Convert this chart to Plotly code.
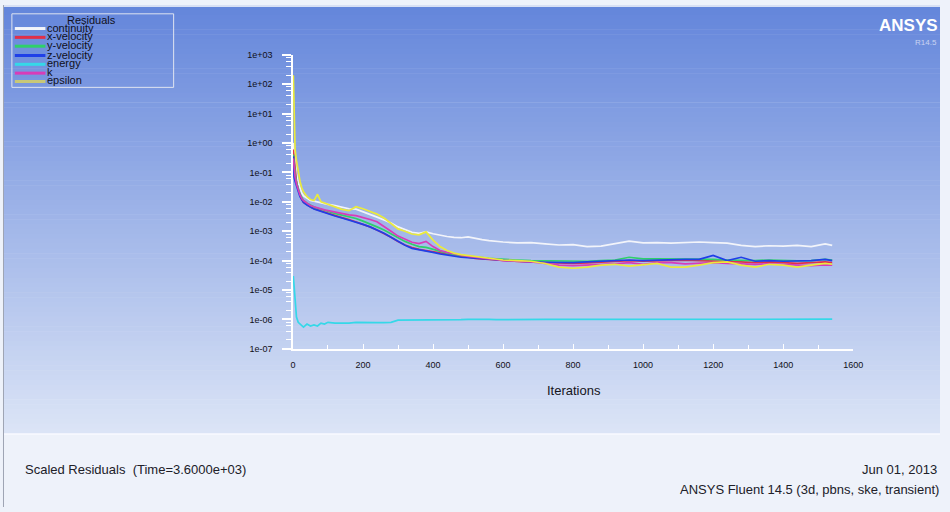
import plotly.graph_objects as go

# ---------------- data ----------------
iterations = [1, 3, 6, 10, 15, 20, 25, 30, 40, 50, 60, 70, 80, 90, 100,
              120, 140, 160, 180, 200, 220, 240, 260, 280, 300, 320, 340, 360, 380, 400,
              420, 440, 460, 480, 500, 520, 540, 560, 580, 600,
              640, 680, 720, 760, 800, 840, 880, 920, 960, 1000, 1040, 1080, 1120, 1160,
              1200, 1240, 1280, 1320, 1360, 1400, 1440, 1480, 1520, 1540]

continuity = [1.0, 0.5, 0.2, 0.09, 0.045, 0.028, 0.02, 0.016, 0.013, 0.011, 0.0105, 0.0098, 0.0092, 0.0088, 0.0082,
              0.0074, 0.0066, 0.0058, 0.0056, 0.0046, 0.0038, 0.003, 0.0024, 0.0019, 0.0014, 0.0011, 0.00092, 0.00085, 0.00095, 0.00082,
              0.00072, 0.00066, 0.00062, 0.0006, 0.00064, 0.00056, 0.00052, 0.00048, 0.00045, 0.00043,
              0.0004, 0.00041, 0.00037, 0.00034, 0.00035, 0.0003, 0.00031, 0.00038, 0.00046, 0.0004, 0.00041, 0.00039, 0.00042, 0.00043,
              0.00041, 0.00039, 0.00033, 0.0003, 0.00032, 0.00031, 0.00033, 0.0003, 0.00037, 0.00033]

x_velocity = [0.6, 0.3, 0.11, 0.05, 0.025, 0.016, 0.012, 0.0095, 0.0078, 0.0066, 0.0058, 0.0053, 0.0048, 0.0044, 0.004,
              0.0034, 0.0029, 0.0025, 0.0021, 0.0017, 0.0014, 0.0011, 0.00085, 0.00062, 0.00045, 0.00034, 0.00028, 0.00024, 0.00022, 0.0002,
              0.00018, 0.000165, 0.00015, 0.00014, 0.00013, 0.00012, 0.000115, 0.00011, 0.000105, 0.0001,
              0.000094, 0.00009, 0.000086, 0.000082, 0.00008, 0.000084, 0.00009, 0.000094, 0.0001, 0.000096, 0.0001, 0.0001, 0.000104, 0.0001,
              0.000098, 0.000094, 0.00009, 0.000086, 0.00009, 0.000086, 0.00008, 0.000086, 0.00009, 0.000086]

y_velocity = [0.4, 0.2, 0.09, 0.045, 0.026, 0.018, 0.014, 0.011, 0.009, 0.0075, 0.0066, 0.006, 0.0055, 0.0051, 0.0047,
              0.004, 0.0035, 0.0031, 0.0027, 0.0022, 0.0018, 0.0014, 0.0011, 0.0008, 0.0006, 0.00045, 0.00036, 0.0003, 0.00028, 0.00024,
              0.0002, 0.00018, 0.00016, 0.00015, 0.00014, 0.00013, 0.000125, 0.00012, 0.000115, 0.00011,
              0.000105, 0.0001, 0.000098, 0.000095, 0.000092, 0.000095, 0.0001, 0.000105, 0.00013, 0.000115, 0.000115, 0.000115, 0.000115, 0.000115,
              0.00011, 0.000105, 0.0001, 0.0001, 0.000105, 0.0001, 0.000098, 0.0001, 0.00011, 0.000105]

z_velocity = [0.35, 0.07, 0.05, 0.035, 0.022, 0.015, 0.012, 0.0095, 0.0078, 0.0065, 0.0057, 0.0052, 0.0047, 0.0043, 0.0039,
              0.0033, 0.0028, 0.0024, 0.0021, 0.0017, 0.0014, 0.0011, 0.00085, 0.00062, 0.00044, 0.00033, 0.00026, 0.00023, 0.00021, 0.00019,
              0.00017, 0.000155, 0.00014, 0.00013, 0.000125, 0.00012, 0.000115, 0.00011, 0.000105, 0.0001,
              0.000095, 0.00009, 0.000088, 0.000085, 0.000085, 0.00009, 0.000095, 0.0001, 0.000105, 0.0001, 0.000105, 0.000105, 0.00011, 0.00011,
              0.00015, 0.0001, 0.00013, 0.000095, 0.0001, 0.000095, 0.000095, 0.0001, 0.00011, 0.0001]

energy = [3e-5, 1.2e-5, 3e-6, 1.2e-6, 8e-7, 7e-7, 6e-7, 5.5e-7, 7e-7, 6e-7, 6.5e-7, 6e-7, 7.5e-7, 7e-7, 8e-7,
          7.5e-7, 7.5e-7, 7.5e-7, 8e-7, 7.8e-7, 7.6e-7, 7.8e-7, 7.8e-7, 8e-7, 9.5e-7, 9.5e-7, 9.3e-7, 9.5e-7, 9.5e-7, 9.6e-7,
          9.6e-7, 9.8e-7, 9.7e-7, 9.8e-7, 1.0e-6, 9.8e-7, 9.9e-7, 1.0e-6, 9.9e-7, 1.0e-6,
          1.0e-6, 1.0e-6, 1.0e-6, 1.0e-6, 1.0e-6, 1.0e-6, 1.0e-6, 1.0e-6, 1.02e-6, 1.02e-6, 1.02e-6, 1.02e-6, 1.02e-6, 1.02e-6,
          1.02e-6, 1.02e-6, 1.02e-6, 1.02e-6, 1.02e-6, 1.02e-6, 1.02e-6, 1.02e-6, 1.02e-6, 1.02e-6]

k = [0.3, 0.15, 0.07, 0.04, 0.025, 0.017, 0.013, 0.011, 0.009, 0.0075, 0.0068, 0.0062, 0.0057, 0.0053, 0.005,
     0.0044, 0.0039, 0.0036, 0.0034, 0.003, 0.0025, 0.0021, 0.0014, 0.001, 0.00068, 0.00052, 0.00042, 0.00038, 0.00045, 0.0003,
     0.00022, 0.00019, 0.00017, 0.00015, 0.00014, 0.00013, 0.00012, 0.000115, 0.00011, 0.0001,
     0.000095, 0.00009, 0.00008, 0.00007, 0.000068, 0.00007, 0.000075, 0.000078, 0.000085, 0.000075, 0.000085, 0.000085, 0.000078, 0.00008,
     0.000085, 0.00008, 0.000078, 0.000075, 0.000078, 0.000075, 0.00007, 0.000068, 0.000072, 0.00007]

epsilon = [200.0, 5.0, 0.6, 0.25, 0.1, 0.05, 0.03, 0.022, 0.015, 0.012, 0.011, 0.018, 0.01, 0.009, 0.008,
           0.0065, 0.0055, 0.005, 0.0068, 0.0058, 0.0048, 0.0038, 0.0028, 0.0018, 0.0012, 0.001, 0.0008, 0.00075, 0.00095, 0.0005,
           0.0003, 0.00022, 0.00018, 0.00016, 0.00015, 0.00014, 0.00013, 0.00012, 0.00011, 0.000105,
           0.0001, 0.000095, 0.00008, 0.00006, 0.000055, 0.00006, 0.00007, 0.000075, 0.000065, 0.00007, 0.00008, 0.00006, 0.00006, 0.00007,
           0.000085, 0.00009, 0.00007, 0.00006, 0.000075, 0.00007, 0.00006, 0.00007, 0.00008, 0.000075]

series_names = ["continuity", "x-velocity", "y-velocity", "z-velocity", "energy", "k", "epsilon"]
series_values = [continuity, x_velocity, y_velocity, z_velocity, energy, k, epsilon]
series_colors = ["#f2f4fa", "#e0304a", "#2fd06a", "#1f3fe8", "#35d8e8", "#d83cb8", "#eaea3c"]
legend_colors = ["#f2f4fa", "#e0304a", "#2fd06a", "#1f3fe8", "#35d8e8", "#d83cb8", "#c8c878"]

y_tick_vals = [1e-7, 1e-6, 1e-5, 1e-4, 1e-3, 1e-2, 1e-1, 1e0, 1e1, 1e2, 1e3]
y_tick_text = ["1e-07", "1e-06", "1e-05", "1e-04", "1e-03", "1e-02", "1e-01", "1e+00", "1e+01", "1e+02", "1e+03"]
x_tick_vals = [0, 200, 400, 600, 800, 1000, 1200, 1400, 1600]

W, H = 950, 512
FONT = "Liberation Sans, Arial, sans-serif"


def px(x):
    return x / W


def py(y):
    return 1 - y / H


fig = go.Figure()
for name, vals, col in zip(series_names, series_values, series_colors):
    fig.add_trace(go.Scatter(x=iterations, y=vals, mode="lines", name=name,
                             line=dict(color=col, width=1.7), showlegend=False))

# minor tick positions on the log axis (2, 4, 6, 8 of each decade)
minor_vals = []
for e in range(-7, 3):
    for m in (2, 4, 6, 8):
        minor_vals.append(m * 10.0 ** e)

shapes = []
# background gradient (top blue -> light)
top = (100, 134, 219)
bot = (219, 228, 246)
n = 88
band_h = 437 / n
for i in range(n):
    t = i / (n - 1)
    c = tuple(round(top[j] + (bot[j] - top[j]) * t) for j in range(3))
    shapes.append(dict(type="rect", xref="paper", yref="paper", layer="below",
                       x0=0, x1=1, y0=py(i * band_h + band_h + 0.5), y1=py(i * band_h),
                       fillcolor="rgb(%d,%d,%d)" % c, line=dict(width=0)))
# thin light band at the top
shapes.append(dict(type="rect", xref="paper", yref="paper", layer="below",
                   x0=0, x1=1, y0=py(2), y1=1, fillcolor="#d8e0f4", line=dict(width=0)))
# separator below the plot window
shapes.append(dict(type="line", xref="paper", yref="paper", layer="below",
                   x0=0, x1=1, y0=py(437.5), y1=py(437.5), line=dict(color="#f8faff", width=1.5)))
# left border
shapes.append(dict(type="line", xref="paper", yref="paper", layer="above",
                   x0=px(0.5), x1=px(0.5), y0=0, y1=1, line=dict(color="#9ea4b4", width=1)))
# legend box
shapes.append(dict(type="rect", xref="paper", yref="paper", layer="above",
                   x0=px(9), x1=px(173), y0=py(84), y1=py(9),
                   line=dict(color="#dfe4f0", width=1), fillcolor="rgba(0,0,0,0)"))
legend_rows = [24, 33, 42, 51.5, 60.5, 69.5, 78]
for yy, col in zip(legend_rows, legend_colors):
    shapes.append(dict(type="line", xref="paper", yref="paper", layer="above",
                       x0=px(12), x1=px(43), y0=py(yy), y1=py(yy), line=dict(color=col, width=3)))

TXT = "#101020"
annotations = []
annotations.append(dict(text="Residuals", x=px(90), y=py(15), xref="paper", yref="paper",
                        xanchor="center", yanchor="middle", showarrow=False,
                        font=dict(family=FONT, size=11, color=TXT)))
for yy, name in zip(legend_rows, series_names):
    annotations.append(dict(text=name, x=px(43), y=py(yy - 1), xref="paper", yref="paper",
                            xanchor="left", yanchor="middle", showarrow=False,
                            font=dict(family=FONT, size=11, color=TXT)))
annotations.append(dict(text="<b>ANSYS</b>", x=px(950), y=py(21), xref="paper", yref="paper",
                        xanchor="right", yanchor="middle", showarrow=False,
                        font=dict(family=FONT, size=17, color="#ffffff")))
annotations.append(dict(text="R14.5", x=px(949), y=py(38), xref="paper", yref="paper",
                        xanchor="right", yanchor="middle", showarrow=False,
                        font=dict(family=FONT, size=8, color="#c9d4f2")))
annotations.append(dict(text="Iterations", x=px(579), y=py(393), xref="paper", yref="paper",
                        xanchor="center", yanchor="middle", showarrow=False,
                        font=dict(family=FONT, size=13, color="#151520")))
annotations.append(dict(text="Scaled Residuals  (Time=3.6000e+03)", x=px(20), y=py(474), xref="paper", yref="paper",
                        xanchor="left", yanchor="middle", showarrow=False,
                        font=dict(family=FONT, size=13, color="#202028")))
annotations.append(dict(text="Jun 01, 2013", x=px(949), y=py(474), xref="paper", yref="paper",
                        xanchor="right", yanchor="middle", showarrow=False,
                        font=dict(family=FONT, size=13, color="#202028")))
annotations.append(dict(text="ANSYS Fluent 14.5 (3d, pbns, ske, transient)", x=px(951), y=py(494), xref="paper", yref="paper",
                        xanchor="right", yanchor="middle", showarrow=False,
                        font=dict(family=FONT, size=13, color="#202028")))

fig.update_layout(
    autosize=True,
    margin=dict(l=0, r=0, t=0, b=0, pad=0),
    paper_bgcolor="#eef2fa", plot_bgcolor="rgba(0,0,0,0)",
    showlegend=False,
    shapes=shapes, annotations=annotations,
    xaxis=dict(domain=[px(294), px(862)], range=[0, 1600], showgrid=False, zeroline=False,
               showline=True, linecolor="white", linewidth=1.5,
               tickvals=x_tick_vals, ticks="inside", ticklen=5, tickcolor="white", tickwidth=1,
               minor=dict(dtick=100, ticks="inside", ticklen=4, tickcolor="white", tickwidth=1),
               tickfont=dict(family=FONT, size=9, color="#101018"), ticklabelstandoff=7),
    yaxis=dict(type="log", domain=[py(350.7), py(50.7)], range=[-7, 3], showgrid=False, zeroline=False,
               showline=True, linecolor="white", linewidth=1.5,
               tickvals=y_tick_vals, ticktext=y_tick_text, ticks="outside", ticklen=9,
               tickcolor="white", tickwidth=1.5,
               minor=dict(tickvals=minor_vals, ticks="outside", ticklen=5, tickcolor="white", tickwidth=1),
               tickfont=dict(family=FONT, size=9, color="#101018"), ticklabelstandoff=8),
)

post = ("document.documentElement.style.margin='0px';"
        "document.documentElement.style.overflow='hidden';"
        "document.body.style.margin='0px';"
        "document.body.style.padding='0px';"
        "document.body.style.overflow='hidden';"
        "var gd=document.getElementById('{plot_id}');"
        "gd.style.position='fixed';gd.style.left='0px';gd.style.top='0px';"
        "Plotly.Plots.resize(gd);")
fig.write_html("out.html", config={"displayModeBar": False, "responsive": True},
               default_width="100vw", default_height="100vh",
               post_script=post)
